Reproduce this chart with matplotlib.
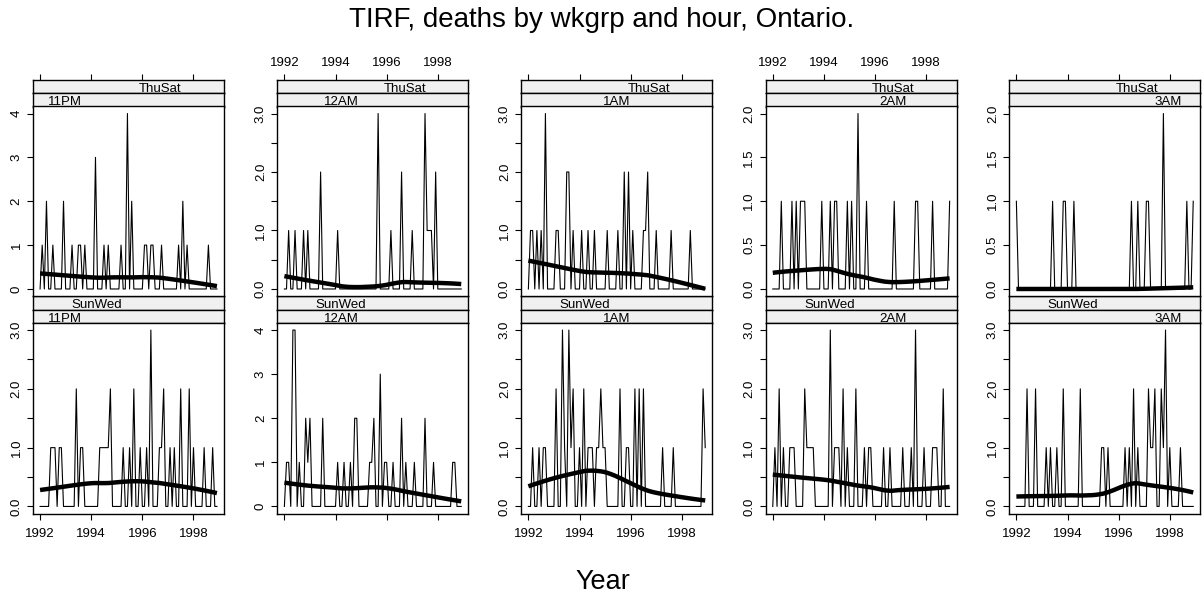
import numpy as np
from matplotlib import pyplot as plt

plt.rcParams["font.family"] = ["Liberation Sans", "DejaVu Sans"]

# monthly counts, Jan 1992 .. Dec 1998, one row per year
months = 1992 + np.arange(84) / 12.0
hours = ["11PM", "12AM", "1AM", "2AM", "3AM"]
wkgrps = ["SunWed", "ThuSat"]
year_ticks = [1992, 1994, 1996, 1998]

thusat_11pm = [0, 1, 0, 2, 0, 0, 1, 0, 0, 0, 0, 2,
               0, 0, 0, 1, 0, 0, 1, 1, 0, 1, 0, 0,
               0, 0, 3, 0, 0, 0, 1, 0, 1, 0, 0, 0,
               0, 0, 1, 0, 0, 4, 0, 2, 0, 0, 0, 0,
               0, 1, 1, 0, 1, 1, 0, 0, 0, 1, 0, 0,
               0, 0, 0, 0, 0, 1, 0, 2, 0, 1, 0, 0,
               0, 0, 0, 0, 0, 0, 0, 1, 0, 0, 0, 0]
thusat_12am = [0, 0, 1, 0, 0, 1, 0, 0, 0, 1, 0, 1,
               0, 0, 0, 0, 0, 2, 0, 0, 0, 0, 0, 0,
               0, 1, 0, 0, 0, 0, 0, 0, 0, 0, 0, 0,
               0, 0, 0, 0, 0, 0, 0, 0, 3, 0, 0, 0,
               0, 0, 1, 0, 0, 0, 0, 2, 0, 0, 0, 0,
               1, 0, 0, 0, 0, 0, 3, 1, 1, 1, 0, 2,
               0, 0, 0, 0, 0, 0, 0, 0, 0, 0, 0, 0]
thusat_1am = [0, 1, 1, 0, 1, 0, 1, 0, 3, 0, 0, 0,
              0, 1, 1, 0, 0, 0, 2, 2, 0, 1, 0, 0,
              0, 1, 0, 0, 1, 0, 0, 1, 0, 0, 0, 0,
              0, 1, 0, 0, 0, 0, 1, 0, 0, 2, 0, 2,
              0, 1, 0, 0, 0, 0, 1, 1, 2, 0, 0, 0,
              1, 0, 0, 0, 0, 0, 0, 1, 0, 0, 0, 0,
              0, 0, 0, 0, 1, 0, 0, 0, 0, 0, 0, 0]
thusat_2am = [0, 0, 0, 0, 1, 0, 0, 0, 0, 1, 0, 1,
              0, 1, 1, 1, 0, 0, 0, 0, 0, 0, 0, 1,
              0, 0, 0, 1, 0, 1, 1, 0, 0, 0, 0, 1,
              0, 1, 0, 0, 2, 0, 0, 0, 1, 0, 0, 0,
              0, 0, 0, 0, 0, 0, 0, 0, 0, 1, 0, 0,
              0, 0, 0, 0, 0, 0, 0, 1, 1, 0, 0, 0,
              0, 0, 0, 1, 0, 0, 0, 0, 0, 0, 0, 1]
thusat_3am = [1, 0, 0, 0, 0, 0, 0, 0, 0, 0, 0, 0,
              0, 0, 0, 0, 0, 1, 0, 0, 0, 0, 1, 1,
              0, 0, 0, 1, 0, 0, 0, 0, 0, 0, 0, 0,
              0, 0, 0, 0, 0, 0, 0, 0, 0, 0, 0, 0,
              0, 0, 0, 0, 0, 0, 1, 0, 0, 1, 0, 0,
              0, 1, 1, 0, 0, 0, 0, 0, 0, 2, 0, 0,
              0, 0, 0, 0, 0, 0, 0, 0, 1, 0, 0, 1]

sunwed_11pm = [0, 0, 0, 0, 0, 1, 1, 1, 0, 1, 1, 0,
               0, 0, 0, 0, 0, 2, 0, 1, 1, 0, 0, 0,
               0, 0, 0, 0, 1, 1, 1, 1, 1, 2, 0, 0,
               0, 0, 0, 1, 0, 0, 1, 0, 2, 0, 0, 1,
               0, 0, 1, 0, 3, 0, 0, 0, 1, 1, 2, 0,
               0, 1, 0, 1, 0, 0, 2, 0, 0, 0, 2, 0,
               1, 0, 0, 0, 0, 1, 0, 0, 0, 1, 0, 0]
sunwed_12am = [0, 1, 1, 0, 4, 4, 0, 1, 0, 0, 2, 1,
               2, 0, 0, 0, 0, 0, 2, 0, 0, 0, 0, 0,
               0, 1, 0, 0, 1, 0, 0, 1, 0, 2, 2, 0,
               0, 0, 0, 0, 1, 1, 2, 0, 0, 3, 0, 1,
               1, 0, 0, 1, 0, 0, 0, 2, 0, 1, 0, 0,
               0, 1, 0, 0, 0, 0, 2, 0, 0, 0, 1, 0,
               0, 0, 0, 0, 0, 0, 0, 1, 1, 0, 0, 0]
sunwed_1am = [0, 0, 1, 0, 0, 1, 0, 1, 1, 0, 0, 0,
              0, 2, 0, 0, 3, 1, 0, 3, 1, 2, 0, 0,
              1, 0, 2, 0, 1, 1, 1, 0, 1, 1, 2, 1,
              1, 0, 0, 0, 0, 0, 0, 2, 0, 0, 1, 1,
              0, 0, 2, 0, 2, 0, 2, 0, 0, 0, 0, 0,
              0, 0, 0, 1, 0, 0, 0, 0, 1, 0, 0, 0,
              0, 0, 0, 0, 0, 0, 0, 0, 0, 0, 2, 1]
sunwed_2am = [0, 1, 0, 2, 0, 1, 0, 0, 1, 1, 1, 0,
              0, 0, 0, 2, 1, 1, 1, 1, 0, 0, 0, 0,
              0, 0, 0, 3, 0, 1, 1, 1, 0, 2, 0, 1,
              0, 0, 0, 2, 0, 0, 0, 1, 0, 1, 1, 0,
              0, 0, 0, 0, 1, 0, 0, 1, 0, 0, 0, 0,
              0, 1, 0, 0, 0, 1, 0, 3, 0, 0, 0, 1,
              0, 0, 0, 1, 1, 1, 0, 0, 2, 0, 0, 0]
sunwed_3am = [0, 0, 0, 0, 0, 2, 0, 0, 0, 2, 0, 0,
              0, 0, 1, 0, 1, 0, 0, 1, 0, 0, 2, 0,
              0, 0, 0, 0, 0, 0, 2, 0, 0, 0, 0, 0,
              0, 0, 0, 0, 1, 1, 0, 1, 0, 0, 0, 0,
              0, 0, 0, 1, 0, 1, 0, 2, 0, 1, 0, 0,
              0, 0, 2, 1, 1, 2, 0, 0, 2, 1, 3, 0,
              1, 0, 0, 0, 0, 1, 0, 0, 0, 0, 0, 0]

deaths = {
    "ThuSat": [thusat_11pm, thusat_12am, thusat_1am, thusat_2am, thusat_3am],
    "SunWed": [sunwed_11pm, sunwed_12am, sunwed_1am, sunwed_2am, sunwed_3am],
}


def robustness_weights(res):
    # bisquare weights on 6 * MAD, reset to 1 when the MAD vanishes
    a = np.abs(res)
    cmad = 6 * np.median(a)
    if cmad < np.finfo(float).tiny:
        return np.ones_like(a)
    w = (1 - (a / cmad) ** 2) ** 2
    w[a > 0.999 * cmad] = 0.0
    w[a <= 0.001 * cmad] = 1.0
    return w


def loess(x, y, xout, span=2 / 3, iterations=2):
    # local linear fit with tricube weights and bisquare reweighting
    x = np.asarray(x, float)
    y = np.asarray(y, float)
    q = int(np.floor(len(x) * span))
    rw = np.ones_like(y)

    def fit_at(x0):
        d = np.abs(x - x0)
        h = np.sort(d)[q - 1]
        w = np.clip(1 - (d / h) ** 3, 0, None) ** 3 * rw
        sw = w.sum()
        if sw <= 0:
            return 0.0
        xm = (w * x).sum() / sw
        ym = (w * y).sum() / sw
        sxx = (w * (x - xm) ** 2).sum()
        b = (w * (x - xm) * (y - ym)).sum() / sxx if sxx > 0 else 0.0
        return ym + b * (x0 - xm)

    for it in range(iterations - 1):
        fitted = np.array([fit_at(v) for v in x])
        rw = robustness_weights(y - fitted)
    return np.array([fit_at(v) for v in xout])


W, H = 1202, 596
fig = plt.figure(figsize=(W / 100, H / 100), dpi=100)


def box(x0, y0, x1, y1):
    return [x0 / W, 1 - y1 / H, (x1 - x0) / W, (y1 - y0) / H]


col_left = [33, 277.3, 521.3, 765.7, 1009.3]
col_width = 191
# (outer strip top, inner strip top, panel top, panel bottom)
rows = {"ThuSat": (79.5, 93, 106.5, 296), "SunWed": (296, 309.5, 323, 513.5)}
strip_fill = "#f0f0f0"

xr = months[-1] - months[0]
xlim = (months[0] - 0.04 * xr, months[-1] + 0.04 * xr)
xfit = np.linspace(months[0], months[-1], 50)


def strip(rect, label, pos):
    ax = fig.add_axes(rect)
    ax.set_facecolor(strip_fill)
    ax.set_xlim(xlim)
    ax.set_ylim(0, 1)
    ax.set_yticks([])
    ax.set_xticks([])
    for s in ax.spines.values():
        s.set_linewidth(1)
    ax.text(pos, 0.32, label, transform=ax.transAxes, ha="center", va="center",
            fontsize=9.5, clip_on=True)
    return ax


for g, wkgrp in enumerate(wkgrps):
    top, mid, ptop, pbot = rows[wkgrp]
    for i, hour in enumerate(hours):
        x0 = col_left[i]
        x1 = x0 + col_width
        counts = np.array(deaths[wkgrp][i])

        outer = strip(box(x0, top, x1, mid), wkgrp, (g + 1) / (len(wkgrps) + 1))
        strip(box(x0, mid, x1, ptop), hour, (i + 1) / (len(hours) + 1))

        ax = fig.add_axes(box(x0, ptop, x1, pbot))
        ax.plot(months, counts, color="black", lw=0.8)
        ax.plot(xfit, loess(months, counts, xfit), color="black", lw=3.2,
                solid_capstyle="butt")

        ymax = counts.max()
        ax.set_xlim(xlim)
        ax.set_ylim(-0.04 * ymax, ymax * 1.04)
        for s in ax.spines.values():
            s.set_linewidth(1)

        if ymax >= 4:
            yt = np.arange(0, ymax + 1)
            ylabels = [f"{v:.0f}" for v in yt]
        elif ymax >= 3:
            yt = np.arange(0, ymax + 0.5, 0.5)
            ylabels = [f"{v:.1f}" if v == int(v) else "" for v in yt]
        else:
            yt = np.arange(0, ymax + 0.5, 0.5)
            ylabels = [f"{v:.1f}" for v in yt]
        ax.set_yticks(yt)
        ax.set_yticklabels(ylabels)
        ax.tick_params(axis="y", direction="out", length=4.5, width=0.8,
                       labelsize=9.5, pad=3, labelrotation=90)
        for lab in ax.get_yticklabels():
            lab.set_verticalalignment("center")

        labelled = (i % 2 == 0) if wkgrp == "SunWed" else (i % 2 == 1)
        if wkgrp == "SunWed":
            ax.set_xticks(year_ticks)
            ax.set_xticklabels([str(y) for y in year_ticks] if labelled else [])
            ax.tick_params(axis="x", direction="out", length=4.5, width=0.8,
                           labelsize=9.5, pad=6)
        else:
            ax.set_xticks([])
            outer.set_xticks(year_ticks)
            outer.set_xticklabels([str(y) for y in year_ticks] if labelled else [])
            outer.xaxis.tick_top()
            outer.tick_params(axis="x", direction="out", length=4.5, width=0.8,
                              labelsize=9.5, pad=3)

fig.text(602 / W, 1 - 27 / H, "TIRF, deaths by wkgrp and hour, Ontario.",
         ha="center", va="baseline", fontsize=20)
fig.text(603 / W, 1 - 589 / H, "Year", ha="center", va="baseline", fontsize=19.5)

fig.savefig("out.png", dpi=100)
